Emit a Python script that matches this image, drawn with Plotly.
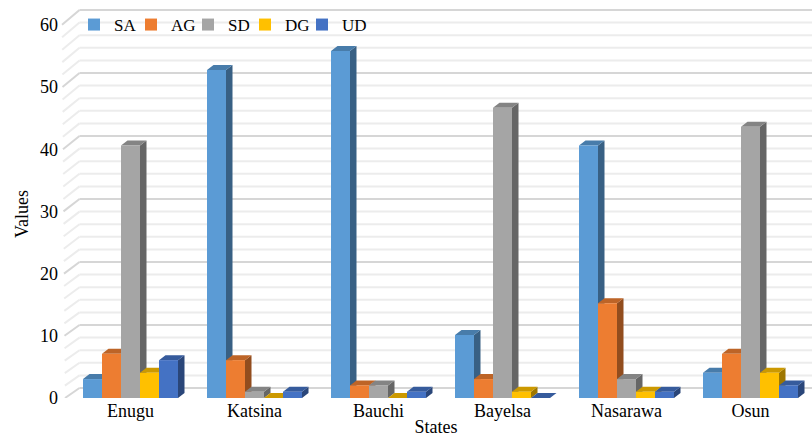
import plotly.graph_objects as go

# ---- data -------------------------------------------------------------
states = ["Enugu", "Katsina", "Bauchi", "Bayelsa", "Nasarawa", "Osun"]
series_names = ["SA", "AG", "SD", "DG", "UD"]
sa = [3, 52, 55, 10, 40, 4]
ag = [7, 6, 2, 3, 15, 7]
sd = [40, 1, 2, 46, 3, 43]
dg = [4, 0, 0, 1, 1, 4]
ud = [6, 1, 1, 0, 1, 2]
y_ticks = [0, 10, 20, 30, 40, 50, 60]
grid_values = list(range(0, 61, 2))

# ---- style ------------------------------------------------------------
series_values = [sa, ag, sd, dg, ud]
colors = ["#5B9BD5", "#ED7D31", "#A5A5A5", "#FFC000", "#4472C4"]
FONT = "Times New Roman"

PLOT_L, PLOT_W = 60, 752      # plot area left edge / width in px
PLOT_B, PLOT_H = 398, 390     # plot area bottom edge / height in px

CAT_PX = 124.0                # px per category
FIRST_CAT_PX = 130.5          # px position of the first category centre
X_MIN = -(FIRST_CAT_PX - PLOT_L) / CAT_PX
X_MAX = X_MIN + PLOT_W / CAT_PX

BAR_SCALE = 6.31              # px per unit for the columns
FRONT_SCALE = 6.22            # px per unit along the front (value labels)
BACK_SCALE = 6.30             # px per unit on the back wall
BACK_LIFT = 10                # back wall floor sits this many px higher

BAR_W = 19 / CAT_PX           # width of one column (category units)
DEPTH_X = 6.5 / CAT_PX        # oblique depth of a column, category units
DEPTH_Y = 5 / BAR_SCALE       # oblique depth of a column, value units


def px_to_paper_x(px):
    return (px - PLOT_L) / PLOT_W


def px_to_paper_y(py):
    return (PLOT_B - py) / PLOT_H


def shade(hex_color, f):
    h = hex_color.lstrip("#")
    r, g, b = (int(h[i:i + 2], 16) for i in (0, 2, 4))
    return "rgb({},{},{})".format(int(r * f), int(g * f), int(b * f))


fig = go.Figure()

n = len(series_names)
group_left = -BAR_W * n / 2.0
cat_x = list(range(len(states)))

# side and top faces of each column (drawn under the front faces)
for j, (name, vals, col) in enumerate(zip(series_names, series_values, colors)):
    side_x, side_y, top_x, top_y = [], [], [], []
    for i, v in enumerate(vals):
        left = i + group_left + j * BAR_W
        right = left + BAR_W
        side_x += [right, right + DEPTH_X, right + DEPTH_X, right, right, None]
        side_y += [0, DEPTH_Y, v + DEPTH_Y, v, 0, None]
        top_x += [left, left + DEPTH_X, right + DEPTH_X, right, left, None]
        top_y += [v, v + DEPTH_Y, v + DEPTH_Y, v, v, None]
    fig.add_trace(go.Scatter(x=side_x, y=side_y, mode="lines", fill="toself",
                             fillcolor=shade(col, 0.62), line=dict(width=0),
                             showlegend=False, hoverinfo="skip",
                             xaxis="x2", yaxis="y2"))
    fig.add_trace(go.Scatter(x=top_x, y=top_y, mode="lines", fill="toself",
                             fillcolor=shade(col, 0.8), line=dict(width=0),
                             showlegend=False, hoverinfo="skip",
                             xaxis="x2", yaxis="y2"))

# front faces; each series gets its own one-entry legend so the keys
# can sit close together in a single row
legend_ids = ["legend"] + ["legend{}".format(k) for k in range(2, n + 1)]
for j, (name, vals, col) in enumerate(zip(series_names, series_values, colors)):
    fig.add_trace(go.Bar(x=cat_x, y=vals, name=name,
                         width=BAR_W, offset=group_left + j * BAR_W,
                         marker=dict(color=col, line=dict(width=0)),
                         legend=legend_ids[j],
                         xaxis="x3", yaxis="y3"))

# back wall grid and the slanted lines running from the front edge to it
shapes = []
for gv in grid_values:
    major = gv % 10 == 0
    gcol = "#D6D6D6" if major else "#ECECEC"
    lift = BACK_LIFT + (BACK_SCALE - FRONT_SCALE) * gv
    front_dx = 5 - 0.05 * gv
    back_dx = 19.5
    shapes.append(dict(type="line", layer="below", xref="x", yref="y",
                       xsizemode="pixel", ysizemode="pixel",
                       xanchor=X_MIN, yanchor=gv,
                       x0=back_dx, x1=back_dx + PLOT_W, y0=lift, y1=lift,
                       line=dict(color=gcol, width=2)))
    shapes.append(dict(type="line", layer="below", xref="x", yref="y",
                       xsizemode="pixel", ysizemode="pixel",
                       xanchor=X_MIN, yanchor=gv,
                       x0=front_dx, x1=back_dx, y0=0, y1=lift,
                       line=dict(color=gcol, width=2)))

# white panel behind the legend row
shapes.append(dict(type="rect", layer="below", xref="paper", yref="paper",
                   x0=px_to_paper_x(80), x1=px_to_paper_x(372),
                   y0=px_to_paper_y(36), y1=px_to_paper_y(14),
                   fillcolor="white", line=dict(width=0)))

axis_font = dict(family=FONT, size=18, color="#000000")
legend_font = dict(family=FONT, size=17, color="#000000")

legend_layout = {}
LEG_START, LEG_PITCH = 74, 57
for j, lid in enumerate(legend_ids):
    legend_layout[lid] = dict(
        orientation="h", x=px_to_paper_x(LEG_START + j * LEG_PITCH),
        y=px_to_paper_y(7), xanchor="left", yanchor="top",
        bgcolor="rgba(0,0,0,0)", font=legend_font, itemwidth=30)

bar_range = [0, PLOT_H / BAR_SCALE]
hidden = dict(visible=False, showgrid=False, zeroline=False)

fig.update_layout(
    width=812, height=437,
    margin=dict(l=PLOT_L, r=0, t=PLOT_B - PLOT_H, b=437 - PLOT_B),
    paper_bgcolor="white", plot_bgcolor="white",
    barmode="overlay",
    shapes=shapes,
    font=dict(family=FONT, size=18, color="#000000"),
    xaxis=dict(range=[X_MIN, X_MAX], tickmode="array",
               tickvals=cat_x, ticktext=states,
               showgrid=False, zeroline=False, showline=False, ticks="",
               tickfont=axis_font,
               title=dict(text="States", font=axis_font, standoff=0)),
    yaxis=dict(range=[0, PLOT_H / FRONT_SCALE], tickmode="array",
               tickvals=y_ticks,
               showgrid=False, zeroline=False, showline=False, ticks="",
               tickfont=axis_font, ticklabelstandoff=1),
    xaxis2=dict(range=[X_MIN, X_MAX], overlaying="x", **hidden),
    yaxis2=dict(range=bar_range, overlaying="y", **hidden),
    xaxis3=dict(range=[X_MIN, X_MAX], overlaying="x", **hidden),
    yaxis3=dict(range=bar_range, overlaying="y", **hidden),
    annotations=[dict(text="Values", textangle=-90, showarrow=False,
                      xref="paper", yref="paper",
                      x=px_to_paper_x(22), y=px_to_paper_y(214),
                      xanchor="center", yanchor="middle", font=axis_font)],
    **legend_layout,
)

fig.write_html("out.html")
